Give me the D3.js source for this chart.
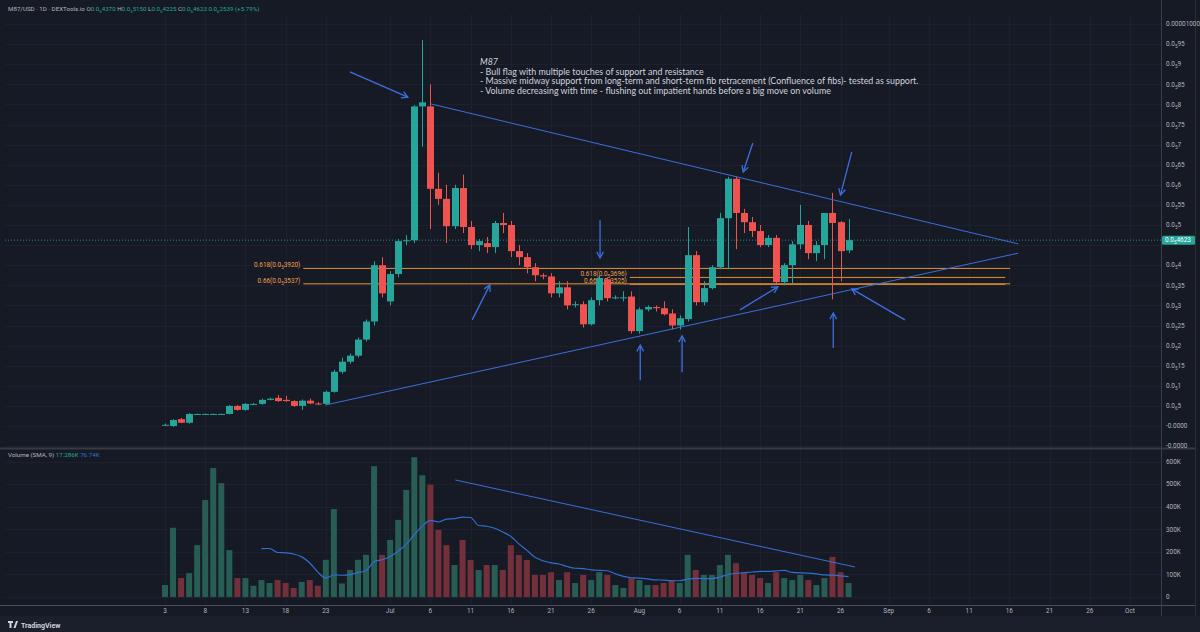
<!DOCTYPE html>
<html><head><meta charset="utf-8">
<script src="https://cdn.jsdelivr.net/npm/d3@7/dist/d3.min.js"></script>
<style>
html,body{margin:0;padding:0;background:#161a25;}
svg{display:block;font-family:Roboto,"Liberation Sans",sans-serif;}
</style></head><body>
<svg id="chart" width="1200" height="632"></svg>
<script>
// ---------- DATA (prices in units of 1e-6 USD, volume in K) ----------
const startDate = new Date(Date.UTC(2024,5,3));
const dates = d3.utcDay.range(startDate, new Date(Date.UTC(2024,7,28))); // Jun 3 .. Aug 27 daily
const open  = [0.03,0,0.17,0.08,0.3,0.3,0.3,0.3,0.3,0.5,0.4,0.55,0.55,0.65,0.7,0.65,0.62,0.5,0.63,0.56,0.55,0.85,1.35,1.6,1.75,2.15,2.6,4.0,3.1,3.78,4.6,4.62,7.95,7.95,5.9,5.65,4.97,5.92,4.95,4.5,4.55,4.45,5.05,5.0,4.35,4.2,3.95,3.75,3.72,3.3,3.45,3.03,3.03,2.53,3.13,3.65,3.2,3.2,3.22,2.36,2.9,2.96,2.93,2.8,2.5,2.66,4.25,3.08,3.43,3.95,5.17,6.15,5.3,5.07,4.85,4.5,4.68,3.58,4.0,4.52,5.0,4.3,4.5,5.3,5.07,4.37];
const high  = [0.06,0.17,0.2,0.32,0.31,0.31,0.31,0.31,0.52,0.52,0.57,0.57,0.68,0.7,0.77,0.75,0.64,0.66,0.68,0.6,0.88,1.4,1.7,1.8,2.2,2.65,4.1,4.2,3.85,4.65,4.75,7.98,9.6,8.5,6.3,6.0,6.0,6.25,5.1,4.65,4.7,5.1,5.3,5.1,4.5,4.3,4.05,3.8,3.8,3.6,3.6,3.1,3.1,3.2,3.75,3.7,3.25,3.35,3.35,2.95,3.0,3.0,3.1,2.9,2.75,4.95,4.35,3.6,4.0,5.3,6.2,6.2,5.4,5.2,5.0,4.75,4.75,4.05,4.6,5.5,5.1,4.6,5.3,5.8,5.1,5.15];
const low   = [0,-0.02,0.07,0.06,0.29,0.29,0.29,0.29,0.29,0.38,0.38,0.53,0.53,0.64,0.6,0.6,0.48,0.4,0.54,0.52,0.54,0.83,1.3,1.55,1.7,2.1,2.5,3.2,3.0,3.7,4.5,4.55,6.95,4.9,5.5,4.55,4.9,4.8,4.4,4.35,4.3,4.3,4.8,4.2,4.0,3.8,3.6,3.65,3.2,3.2,2.9,2.95,2.45,2.5,3.0,3.1,3.15,3.1,2.3,2.3,2.85,2.85,2.75,2.4,2.4,2.6,3.0,3.0,3.4,3.9,3.9,4.4,4.8,4.7,4.45,4.45,3.55,3.5,3.55,4.4,4.15,4.1,4.15,3.15,3.6,4.3];
const close = [0.03,0.15,0.08,0.3,0.3,0.3,0.3,0.3,0.5,0.4,0.55,0.55,0.65,0.68,0.62,0.62,0.5,0.63,0.56,0.55,0.85,1.35,1.6,1.75,2.15,2.6,4.0,3.3,3.78,4.6,4.62,7.95,8.05,5.9,5.65,4.97,5.92,4.95,4.5,4.6,4.45,5.05,5.0,4.35,4.2,3.95,3.75,3.72,3.3,3.45,3.0,3.03,2.53,3.13,3.68,3.18,3.2,3.2,2.36,2.9,2.96,2.93,2.78,2.5,2.68,4.25,3.08,3.43,3.95,5.17,6.15,5.3,5.07,4.85,4.5,4.68,3.58,4.0,4.52,5.0,4.3,4.5,5.3,5.05,4.35,4.623];
const volume = [53,307,84,106,230,430,572,505,208,84,84,50,75,62,75,62,40,67,75,50,165,390,60,120,165,187,580,187,253,342,475,620,540,498,298,230,142,253,164,120,142,142,120,230,186,164,98,98,110,75,110,62,98,75,110,98,53,40,84,75,53,53,62,75,62,187,120,98,98,142,187,150,110,98,84,62,110,84,75,98,75,53,84,178,110,62];
const smaLength = 13;

// axis ticks
const priceTickValues = [10,9.5,9,8.5,8,7.5,7,6.5,6,5.5,5,4.5,4,3.5,3,2.5,2,1.5,1,0.5,0,-0.5];
const priceTickLabels = ["0.00001000","0.0{5}95","0.0{5}9","0.0{5}85","0.0{5}8","0.0{5}75","0.0{5}7","0.0{5}65","0.0{5}6","0.0{5}55","0.0{5}5","0.0{5}45","0.0{5}4","0.0{5}35","0.0{5}3","0.0{5}25","0.0{5}2","0.0{5}15","0.0{5}1","0.0{6}5","-0.0000","-0.0000"];
const volTickValues = [600,500,400,300,200,100,0];
const volTickLabels = ["600K","500K","400K","300K","200K","100K","0"];
const timeTickDates = ["2024-06-03","2024-06-08","2024-06-13","2024-06-18","2024-06-23","2024-07-01","2024-07-06","2024-07-11","2024-07-16","2024-07-21","2024-07-26","2024-08-01","2024-08-06","2024-08-11","2024-08-16","2024-08-21","2024-08-26","2024-09-01","2024-09-06","2024-09-11","2024-09-16","2024-09-21","2024-09-26","2024-10-01"];
const timeTickLabels = ["3","8","13","18","23","Jul","6","11","16","21","26","Aug","6","11","16","21","26","Sep","6","11","16","21","26","Oct"];

// drawings (day index from Jun 3, price)
const trendPrice = [[[33.1,8.01],[106.1,4.53]],[[19.9,0.52],[106.1,4.30]]];
const trendVolume = [[36.1,519],[85.8,133]];
const arrows = [[[23.0,8.81],[30.2,8.18]],[[73.1,7.04],[71.9,6.32]],[[85.4,6.82],[84.0,5.75]],[[54.1,5.12],[54.1,4.18]],[[38.2,2.64],[40.4,3.51]],[[59.1,1.14],[59.1,2.01]],[[64.3,1.34],[64.3,2.24]],[[71.5,2.89],[76.2,3.46]],[[83.1,1.94],[83.1,2.81]],[[92.0,2.64],[85.4,3.41]]];
const fibLevels = [[17.2,105.1,3.920,"0.618(0.0{5}3920)"],[17.2,105.1,3.537,"0.66(0.0{5}3537)"],[57.8,104.5,3.696,"0.618(0.0{5}3696)"],[57.8,104.5,3.525,"0.66(0.0{5}3525)"]];
const noteLines = ["M87","- Bull flag with multiple touches of support and resistance","- Massive midway support from long-term and short-term fib retracement (Confluence of fibs)- tested as support.","- Volume decreasing with time - flushing out impatient hands before a big move on volume"];
const lastPrice = 4.623;

// ---------- CHART ----------
const svg = d3.select("#chart");
const x = d3.scaleUtc().domain([startDate, new Date(Date.UTC(2024,9,1))]).range([165,1130]);
const y = d3.scaleLinear().domain([0,10]).range([426,24]);
const yv = d3.scaleLinear().domain([0,600]).range([597,461.7]);
const xi = i => x(new Date(startDate.getTime()+i*864e5));

const C = {bg:"#161a25", grid:"#1c2030", axisText:"#b2b5be", up:"#26a69a", down:"#ef5350", line:"#3b6fd8", fib:"#e8922e", sep:"#2a2e39"};

function subText(sel, str, subSize){
  const parts = str.split(/\{|\}/);
  parts.forEach((p,k)=>{
    if(!p) return;
    const t = sel.append("tspan").text(p);
    if(k%2===1){ t.attr("font-size",subSize).attr("dy",2); }
    else if(k>0){ t.attr("dy",-2); }
  });
}

svg.append("rect").attr("width",1200).attr("height",632).attr("fill",C.bg);
svg.append("rect").attr("x",0).attr("y",616).attr("width",1200).attr("height",16).attr("fill","#1b1f2b");

// grid
const g = svg.append("g");
g.selectAll(".hg").data(priceTickValues).join("line")
  .attr("x1",5).attr("x2",1161).attr("y1",d=>Math.round(y(d))+0.5).attr("y2",d=>Math.round(y(d))+0.5)
  .attr("stroke",C.grid);
g.selectAll(".vhg").data(volTickValues).join("line")
  .attr("x1",5).attr("x2",1161).attr("y1",d=>Math.round(yv(d))+0.5).attr("y2",d=>Math.round(yv(d))+0.5)
  .attr("stroke",C.grid);
g.selectAll(".vg").data(timeTickDates).join("line")
  .attr("x1",d=>Math.round(x(new Date(d)))+0.5).attr("x2",d=>Math.round(x(new Date(d)))+0.5)
  .attr("y1",14).attr("y2",605).attr("stroke",C.grid);

// separators / axes frames
svg.append("line").attr("x1",0).attr("x2",1196).attr("y1",448.5).attr("y2",448.5).attr("stroke","#363a45").attr("stroke-width",2);
svg.append("line").attr("x1",0).attr("x2",1196).attr("y1",605.5).attr("y2",605.5).attr("stroke","#4a4e59");
svg.append("line").attr("x1",1161.5).attr("x2",1161.5).attr("y1",0).attr("y2",616).attr("stroke","#3a3e49");
svg.append("line").attr("x1",1195.5).attr("x2",1195.5).attr("y1",0).attr("y2",616).attr("stroke","#2a2e39");

// volume bars
const bw = 6;
svg.append("g").selectAll("rect").data(dates).join("rect")
  .attr("x",(d,i)=>x(d)-bw/2).attr("width",bw)
  .attr("y",(d,i)=>yv(volume[i])).attr("height",(d,i)=>yv(0)-yv(volume[i]))
  .attr("fill",(d,i)=> close[i]>=open[i] ? "#275d52" : "#73303a");

// SMA of volume
const sma = volume.map((v,i)=> i<smaLength-1 ? null : d3.mean(volume.slice(i-smaLength+1,i+1)));
svg.append("path").datum(sma.map((v,i)=>[i,v]).filter(d=>d[1]!==null))
  .attr("d",d3.line().x(d=>x(dates[d[0]])).y(d=>yv(d[1])).curve(d3.curveMonotoneX))
  .attr("fill","none").attr("stroke","#2e6fd0").attr("stroke-width",1.2);

// volume trendline
svg.append("line").attr("x1",xi(trendVolume[0][0])).attr("y1",yv(trendVolume[0][1]))
  .attr("x2",xi(trendVolume[1][0])).attr("y2",yv(trendVolume[1][1])).attr("stroke",C.line).attr("stroke-width",1);

// fib lines + labels
const fg = svg.append("g");
fibLevels.forEach(f=>{
  fg.append("line").attr("x1",xi(f[0])).attr("x2",xi(f[1])).attr("y1",y(f[2])).attr("y2",y(f[2]))
    .attr("stroke",C.fib).attr("stroke-width",1);
  const t = fg.append("text").attr("x",xi(f[0])-3).attr("y",y(f[2])-1).attr("text-anchor","end")
    .attr("font-size",6.4).attr("fill","#f0a04b");
  subText(t,f[3],4.6);
});

// current price dotted line
svg.append("line").attr("x1",5).attr("x2",1161).attr("y1",y(lastPrice)).attr("y2",y(lastPrice))
  .attr("stroke",C.up).attr("stroke-dasharray","1,2").attr("stroke-opacity",0.8);

// candles
const cg = svg.append("g");
dates.forEach((d,i)=>{
  const cx = Math.round(x(d))+0.5;
  const col = close[i]>=open[i] ? C.up : C.down;
  cg.append("line").attr("x1",cx).attr("x2",cx).attr("y1",y(high[i])).attr("y2",y(low[i])).attr("stroke",col);
  const top = y(Math.max(open[i],close[i])), bot = y(Math.min(open[i],close[i]));
  cg.append("rect").attr("x",cx-3.5).attr("width",7).attr("y",top).attr("height",Math.max(1,bot-top)).attr("fill",col);
});

// price trendlines
trendPrice.forEach(t=>{
  svg.append("line").attr("x1",xi(t[0][0])).attr("y1",y(t[0][1])).attr("x2",xi(t[1][0])).attr("y2",y(t[1][1]))
    .attr("stroke",C.line).attr("stroke-width",1);
});

// arrows
const ag = svg.append("g").attr("stroke","#3d6fe0").attr("stroke-width",1.3).attr("fill","none");
arrows.forEach(a=>{
  const x1=xi(a[0][0]), y1=y(a[0][1]), x2=xi(a[1][0]), y2=y(a[1][1]);
  const ang = Math.atan2(y2-y1,x2-x1), L=7, sp=0.5;
  ag.append("line").attr("x1",x1).attr("y1",y1).attr("x2",x2).attr("y2",y2);
  ag.append("path").attr("d",`M${x2-L*Math.cos(ang-sp)},${y2-L*Math.sin(ang-sp)}L${x2},${y2}L${x2-L*Math.cos(ang+sp)},${y2-L*Math.sin(ang+sp)}`);
});

// note text
const nt = svg.append("text").attr("x",480).attr("y",65).attr("font-family","Lato, 'Open Sans', sans-serif")
  .attr("font-size",8.9).attr("fill","#d1d4dc");
noteLines.forEach((l,k)=> nt.append("tspan").attr("x",480).attr("dy",k===0?0:9.7).attr("font-style",k===0?"italic":null).text(l));

// price axis labels
const pa = svg.append("g").attr("font-size",6.4).attr("fill",C.axisText);
priceTickValues.forEach((v,k)=>{
  if(Math.abs(v-4.5)<1e-9) return;
  const t = pa.append("text").attr("x",1166).attr("y",y(v)+2.2);
  subText(t,priceTickLabels[k],4.6);
});
// last price tag
svg.append("rect").attr("x",1162).attr("y",y(lastPrice)-4.5).attr("width",33).attr("height",9).attr("rx",1.5).attr("fill",C.up);
const lp = svg.append("text").attr("x",1165).attr("y",y(lastPrice)+2.2).attr("font-size",6.4).attr("fill","#ffffff");
subText(lp,"0.0{5}4623",4.6);

// volume axis labels
svg.append("g").attr("font-size",6.4).attr("fill",C.axisText).selectAll("text").data(volTickValues).join("text")
  .attr("x",1166).attr("y",d=>yv(d)+2.2).text((d,k)=>volTickLabels[k]);

// time axis labels
svg.append("g").attr("font-size",6.4).attr("fill",C.axisText).attr("text-anchor","middle")
  .selectAll("text").data(timeTickDates).join("text")
  .attr("x",d=>x(new Date(d))).attr("y",613).text((d,k)=>timeTickLabels[k]);

// header
const hd = svg.append("text").attr("x",8).attr("y",11).attr("font-size",6.2).attr("fill",C.axisText);
hd.append("tspan").text("M87/USD · 1D · DEXTools.io  ");
[["O","0.0{5}4370"],["H","0.0{5}5150"],["L","0.0{5}4225"],["C","0.0{5}4623"]].forEach(p=>{
  hd.append("tspan").attr("fill",C.axisText).text(p[0]);
  const s = hd.append("tspan").attr("fill",C.up);
  subText(s,p[1]+" ",4.4);
});
const chg = hd.append("tspan").attr("fill",C.up);
subText(chg,"0.0{6}2539 (+5.79%)",4.4);

// volume header
const vh = svg.append("text").attr("x",8).attr("y",457).attr("font-size",6.2).attr("fill",C.axisText);
vh.append("tspan").text("Volume (SMA, 9)  ");
vh.append("tspan").attr("fill",C.up).text("17.286K  ");
vh.append("tspan").attr("fill","#2e6fd0").text("76.74K");

// TradingView logo
const lg = svg.append("g").attr("transform","translate(8,621)");
lg.append("path").attr("d","M0,0h5v2h-1.5v5h-2v-5h-1.5z M5.5,7l2.5,-7h2l-2.5,7z").attr("fill","#d1d4dc");
lg.append("text").attr("x",13).attr("y",6.5).attr("font-size",7).attr("font-weight","bold").attr("fill","#d1d4dc").text("TradingView");
</script>
</body></html>
